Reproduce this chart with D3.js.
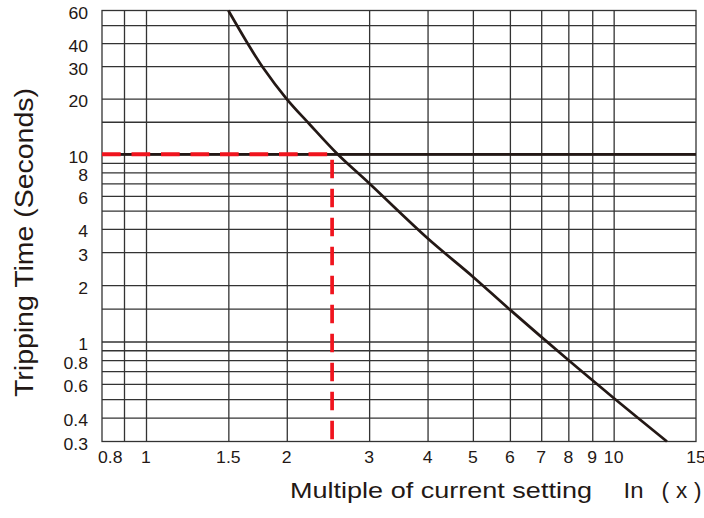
<!DOCTYPE html>
<html>
<head>
<meta charset="utf-8">
<script src="https://cdn.jsdelivr.net/npm/d3@7"></script>
<style>
  html, body { margin: 0; padding: 0; background: #fff; }
  svg { display: block; }
  text { font-family: "Liberation Sans", Arial, Helvetica, sans-serif; fill: #231815; }
</style>
</head>
<body>
<svg id="chart" width="704" height="518"></svg>
<script>
// ---------------- data ----------------
const xMin = 0.7, xMax = 15;
const yMin = 0.3, yMax = 60;
const xGridValues = [0.8, 1, 1.5, 2, 3, 4, 5, 6, 7, 8, 9, 10];
const xTickValues = [0.8, 1, 1.5, 2, 3, 4, 5, 6, 7, 8, 9, 10, 15];
const xTickLabels = ["0.8", "1", "1.5", "2", "3", "4", "5", "6", "7", "8", "9", "10", "15"];
const yGridValues = [50, 40, 30, 20, 15, 10, 9, 8, 7, 6, 5, 4, 3, 2, 1.5, 1, 0.9, 0.8, 0.7, 0.6, 0.5, 0.4];
const yTickValues = [60, 40, 30, 20, 10, 8, 6, 4, 3, 2, 1, 0.8, 0.6, 0.4, 0.3];
const yTickLabels = ["60", "40", "30", "20", "10", "8", "6", "4", "3", "2", "1", "0.8", "0.6", "0.4", "0.3"];
// tripping curve
const curveMultiple = [1.5, 1.64, 1.78, 2.0, 2.24, 2.57, 3.0, 4.0, 5.0, 6.0, 8.0, 10.0, 13.0];
const curveSeconds  = [60, 40.8, 29.4, 19.9, 14.5, 10, 7.0, 3.56, 2.22, 1.48, 0.8, 0.507, 0.3];
// current setting marker
const settingMultiple = 2.5;
const settingSeconds = 10;
const xTitle = "Multiple of current setting";
const xUnitA = "In";
const xUnitB = "(x)";
const yTitle = "Tripping Time (Seconds)";

// ---------------- layout ----------------
const L = 102, R = 696, T = 10.5, B = 441.5;
const svg = d3.select("#chart");

const x = d3.scaleLog().domain([xMin, 0.8, 1, xMax]).range([L, 124, 146, R]);
const y = d3.scaleLog().domain([yMin, 1, 10, yMax]).range([B, 341.5, 154.3, T]);

const gridColor = "#333";
const ink = "#231815";
const red = "#f0141e";

// grid via axes
const gx = svg.append("g").attr("transform", `translate(0,${B})`)
  .call(d3.axisBottom(x).tickValues(xGridValues).tickSize(-(B - T)).tickFormat(""));
gx.select(".domain").remove();
gx.selectAll("line").attr("stroke", gridColor).attr("stroke-width", 1.3);

const gy = svg.append("g").attr("transform", `translate(${L},0)`)
  .call(d3.axisLeft(y).tickValues(yGridValues).tickSize(-(R - L)).tickFormat(""));
gy.select(".domain").remove();
gy.selectAll("line").attr("stroke", gridColor).attr("stroke-width", 1.3);

// frame
svg.append("rect").attr("x", x(xMin)).attr("y", y(yMax))
  .attr("width", x(xMax) - x(xMin)).attr("height", y(yMin) - y(yMax))
  .attr("fill", "none").attr("stroke", gridColor).attr("stroke-width", 1.3);

// stretch helper (source font is a bit wider than Arial)
function stretch(sel, f) {
  sel.each(function () {
    const w = this.getComputedTextLength();
    d3.select(this).attr("textLength", w * f).attr("lengthAdjust", "spacingAndGlyphs");
  });
}

// x tick labels
const xl = svg.append("g").selectAll("text").data(xTickValues).join("text")
  .attr("x", (d) => d < 1 ? x(d) - 1.5 : x(d))
  .attr("y", 462.5)
  .attr("text-anchor", (d) => d < 1 ? "end" : "middle")
  .attr("font-size", 16)
  .text((d, i) => xTickLabels[i]);
stretch(xl, 1.1);

// y tick labels
const yl = svg.append("g").selectAll("text").data(yTickValues).join("text")
  .attr("x", 88)
  .attr("y", (d) => y(d) + 8.5)
  .attr("text-anchor", "end")
  .attr("font-size", 16)
  .text((d, i) => yTickLabels[i]);
stretch(yl, 1.1);

// thick horizontal line at setting time
svg.append("line")
  .attr("x1", x(xMin)).attr("x2", x(xMax))
  .attr("y1", y(settingSeconds)).attr("y2", y(settingSeconds))
  .attr("stroke", ink).attr("stroke-width", 2.8);

// tripping curve
const line = d3.line().x((d) => x(d[0])).y((d) => y(d[1])).curve(d3.curveCatmullRom.alpha(0.5));
svg.append("path")
  .datum(curveMultiple.map((v, i) => [v, curveSeconds[i]]))
  .attr("d", line)
  .attr("fill", "none").attr("stroke", ink).attr("stroke-width", 2.7)
  .attr("stroke-linecap", "butt");

// red dashed markers
svg.append("line")
  .attr("x1", x(xMin)).attr("x2", x(settingMultiple))
  .attr("y1", y(settingSeconds)).attr("y2", y(settingSeconds))
  .attr("stroke", red).attr("stroke-width", 4)
  .attr("stroke-dasharray", "18.7 10.8");
svg.append("line")
  .attr("x1", x(settingMultiple)).attr("x2", x(settingMultiple))
  .attr("y1", y(settingSeconds)).attr("y2", y(yMin))
  .attr("stroke", red).attr("stroke-width", 3.7)
  .attr("stroke-dasharray", "18.5 10.5")
  .attr("stroke-dashoffset", 23.5);

// titles
svg.append("text").attr("x", 290).attr("y", 497.7).attr("font-size", 22.5)
  .attr("textLength", 302).attr("lengthAdjust", "spacingAndGlyphs").text(xTitle);
svg.append("text").attr("x", 623.5).attr("y", 497.7).attr("font-size", 22.5)
  .attr("textLength", 20).attr("lengthAdjust", "spacingAndGlyphs").text(xUnitA);
svg.append("text").attr("x", 661.5).attr("y", 497.7).attr("font-size", 22.5)
  .attr("textLength", 40).attr("lengthAdjust", "spacing").text(xUnitB);
svg.append("text").attr("transform", "translate(33,242.5) rotate(-90)")
  .attr("text-anchor", "middle").attr("font-size", 25)
  .attr("textLength", 309).attr("lengthAdjust", "spacingAndGlyphs").text(yTitle);
</script>
</body>
</html>
